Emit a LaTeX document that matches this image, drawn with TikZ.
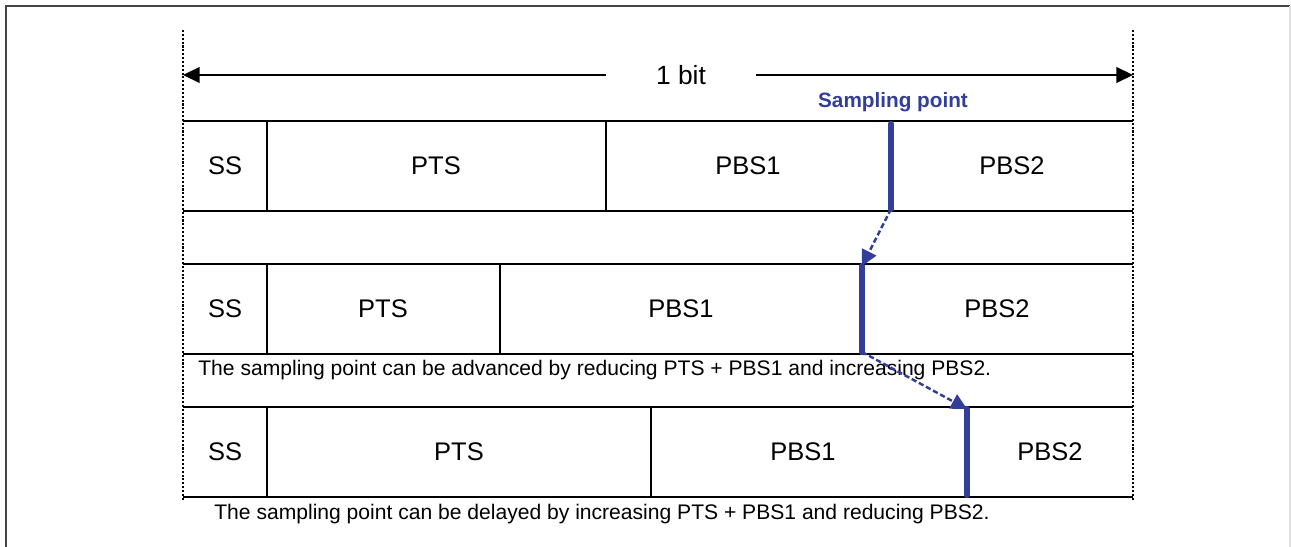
\documentclass[tikz,border=0pt]{standalone}
\usepackage{fontspec}
\setmainfont{Liberation Sans}
\usetikzlibrary{arrows.meta}
\definecolor{spblue}{RGB}{50,62,152}
\definecolor{framegray}{RGB}{70,70,70}
\begin{document}
\begin{tikzpicture}[x=0.02cm,y=-0.02cm,
  cell/.style={draw=black, line width=0.9pt},
  lbl/.style={font=\fontsize{14.5}{17}\selectfont, inner sep=0pt},
  note/.style={font=\fontsize{12}{14}\selectfont, anchor=west, inner sep=0pt},
  spline/.style={draw=spblue, line width=3.6pt, line cap=round},
  sparrow/.style={draw=spblue, line width=1.4pt, dash pattern=on 3pt off 1.6pt, -{Triangle[length=9pt,width=9pt]}},
  dotv/.style={line width=1.6pt, dash pattern=on 1.2pt off 1pt},
  bitarrow/.style={line width=0.9pt, -{Triangle[length=9.5pt,width=9pt]}}]
\useasboundingbox (0,0) rectangle (1291,547);
% outer frame
\draw[framegray, line width=1pt] (6,547) -- (6,6) -- (1290,6);
\draw[black!12, line width=0.6pt] (1290,6) -- (1290,547);
% dotted bit boundaries
\coordinate (dl0) at (183,30);
\coordinate (dl1) at (183,500);
\coordinate (dr0) at (1133,30);
\coordinate (dr1) at (1133,500);
\draw[dotv] (dl0) -- (dl1);
\draw[dotv] (dr0) -- (dr1);
% 1 bit arrow
\node[font=\fontsize{15}{17}\selectfont, inner xsep=1.0cm, inner ysep=0pt] (bit) at (681,75) {1 bit};
\coordinate (bl) at (183,75);
\coordinate (br) at (1133,75);
\draw[bitarrow] (bit.west) -- (bl);
\draw[bitarrow] (bit.east) -- (br);
% sampling point label
\node[font=\fontsize{11.8}{14}\selectfont\bfseries, text=spblue, inner sep=0pt] (splabel) at (893,102) {Sampling point};
% row 1
\draw[cell] (183,121) -- (1133,121);
\draw[cell] (183,211) -- (1133,211);
\draw[cell] (267,121) -- (267,211);
\draw[cell] (606,121) -- (606,211);
\node[lbl] (ss1) at (225,166) {SS};
\node[lbl] (pts1) at (436,166) {PTS};
\node[lbl] (pbsa1) at (748,166) {PBS1};
\node[lbl] (pbsb1) at (1012,166) {PBS2};
% row 2
\draw[cell] (183,264) -- (1133,264);
\draw[cell] (183,354) -- (1133,354);
\draw[cell] (267,264) -- (267,354);
\draw[cell] (500,264) -- (500,354);
\node[lbl] (ss2) at (225,309) {SS};
\node[lbl] (pts2) at (383,309) {PTS};
\node[lbl] (pbsa2) at (681,309) {PBS1};
\node[lbl] (pbsb2) at (997,309) {PBS2};
\node[note] (note1) at (198,370) {The sampling point can be advanced by reducing PTS + PBS1 and increasing PBS2.};
% row 3
\draw[cell] (183,407) -- (1133,407);
\draw[cell] (183,497) -- (1133,497);
\draw[cell] (267,407) -- (267,497);
\draw[cell] (651,407) -- (651,497);
\node[lbl] (ss3) at (225,452) {SS};
\node[lbl] (pts3) at (459,452) {PTS};
\node[lbl] (pbsa3) at (803,452) {PBS1};
\node[lbl] (pbsb3) at (1050,452) {PBS2};
\node[note] (note2) at (214,514) {The sampling point can be delayed by increasing PTS + PBS1 and reducing PBS2.};
% sampling point markers
\coordinate (sp1t) at (891,124);
\coordinate (sp1b) at (891,209);
\coordinate (sp2t) at (862,266);
\coordinate (sp2b) at (862,352);
\coordinate (sp3t) at (967,409);
\coordinate (sp3b) at (967,495);
\draw[spline] (sp1t) -- (sp1b);
\draw[spline] (sp2t) -- (sp2b);
\draw[spline] (sp3t) -- (sp3b);
\draw[sparrow] (sp1b) -- (sp2t);
\draw[sparrow] (sp2b) -- (sp3t);
\end{tikzpicture}
\end{document}
